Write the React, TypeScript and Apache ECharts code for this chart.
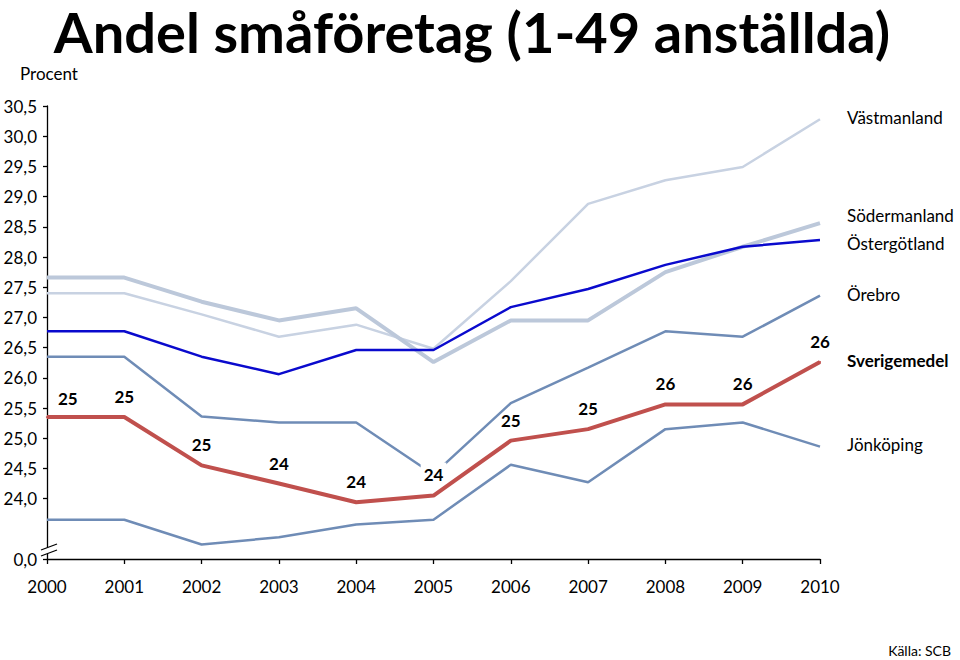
import React, { useEffect, useRef } from "react";
import * as echarts from "echarts";

const years = ["2000", "2001", "2002", "2003", "2004", "2005", "2006", "2007", "2008", "2009", "2010"];
const vastmanland = [27.4, 27.4, 27.05, 26.68, 26.88, 26.48, 27.6, 28.88, 29.27, 29.49, 30.28];
const sodermanland = [27.66, 27.66, 27.26, 26.95, 27.15, 26.26, 26.95, 26.95, 27.75, 28.17, 28.56];
const ostergotland = [26.77, 26.77, 26.35, 26.06, 26.46, 26.46, 27.17, 27.47, 27.87, 28.17, 28.28];
const orebro = [26.35, 26.35, 25.36, 25.26, 25.26, 24.4, 25.58, 26.17, 26.77, 26.68, 27.36];
const sverigemedel = [25.35, 25.35, 24.55, 24.25, 23.94, 24.05, 24.96, 25.15, 25.56, 25.56, 26.26];
const jonkoping = [23.65, 23.65, 23.24, 23.36, 23.57, 23.65, 24.56, 24.27, 25.15, 25.26, 24.86];
const yTicks = [23, 24, 24.5, 25, 25.5, 26, 26.5, 27, 27.5, 28, 28.5, 29, 29.5, 30, 30.5];

const FONT = "Lato, 'Open Sans', sans-serif";

export default function App() {
  const ref = useRef<HTMLDivElement>(null);
  useEffect(() => {
    if (!ref.current) return;
    const chart = echarts.init(ref.current, null, { renderer: "svg" });
    const lineSeries = (name: string, data: any[], color: string, width: number, z: number) => ({
      name,
      type: "line",
      data,
      symbol: "none",
      z,
      lineStyle: { color, width },
      itemStyle: { color },
    });
    const baseLabel = {
      show: true,
      position: "top",
      distance: 11,
      fontSize: 17,
      fontWeight: "bold",
      color: "#000",
      fontFamily: FONT,
      formatter: (p: any) => String(Math.round(p.value)),
    };
    chart.setOption({
      animation: false,
      textStyle: { fontFamily: FONT },
      grid: { left: 47, right: 140, top: 106, bottom: 101 },
      xAxis: {
        type: "category",
        data: years,
        boundaryGap: false,
        axisLine: { lineStyle: { color: "#000", width: 1.3 } },
        axisTick: { show: true, length: 5, lineStyle: { color: "#000", width: 1.3 } },
        axisLabel: { color: "#000", fontSize: 17, margin: 19, fontFamily: FONT },
        splitLine: { show: false },
      },
      yAxis: {
        type: "value",
        min: 23,
        max: 30.5,
        interval: 0.5,
        axisLine: { show: true, lineStyle: { color: "#000", width: 1.3 } },
        axisTick: { show: true, length: 4, customValues: yTicks, lineStyle: { color: "#000", width: 1.3 } },
        axisLabel: {
          color: "#000",
          fontSize: 17,
          margin: 10,
          fontFamily: FONT,
          customValues: yTicks,
          formatter: (v: number) => (v === 23 ? "0,0" : v.toFixed(1).replace(".", ",")),
        },
        splitLine: { show: false },
      },
      series: [
        lineSeries("Västmanland", vastmanland, "#C8D2E2", 2.5, 2),
        lineSeries("Södermanland", sodermanland, "#BCC8DA", 4, 3),
        lineSeries("Östergötland", ostergotland, "#0A0ACD", 2.5, 4),
        lineSeries("Örebro", orebro, "#6F8CB6", 2.5, 5),
        lineSeries("Jönköping", jonkoping, "#6F8CB6", 2.5, 5),
        {
          name: "Sverigemedel",
          type: "line",
          z: 8,
          symbol: "circle",
          symbolSize: 2,
          showSymbol: true,
          lineStyle: { color: "#C0504D", width: 4 },
          itemStyle: { color: "#C0504D" },
          data: sverigemedel.map((v, i) => {
            if (i === 0) return { value: v, label: { ...baseLabel, position: [12, -26] } };
            if (i === 5)
              return { value: v, label: { ...baseLabel, backgroundColor: "#fff", padding: [3, 3, 1, 3] } };
            return { value: v };
          }),
          label: baseLabel,
          labelLayout: { hideOverlap: false },
        },
      ],
      graphic: [
        {
          type: "text",
          x: 472,
          y: 31,
          style: {
            text: "Andel småföretag (1-49 anställda)",
            font: `bold 56px ${FONT}`,
            lineHeight: 56,
            fill: "#000",
            textAlign: "center",
            textVerticalAlign: "middle",
          },
        },
        { type: "text", x: 20, y: 65, style: { text: "Procent", font: `17px ${FONT}`, fill: "#000" } },
        { type: "text", x: 847, y: 109, style: { text: "Västmanland", font: `17px ${FONT}`, fill: "#000" } },
        { type: "text", x: 847, y: 207, style: { text: "Södermanland", font: `17px ${FONT}`, fill: "#000" } },
        { type: "text", x: 847, y: 235, style: { text: "Östergötland", font: `17px ${FONT}`, fill: "#000" } },
        { type: "text", x: 847, y: 286, style: { text: "Örebro", font: `17px ${FONT}`, fill: "#000" } },
        { type: "text", x: 847, y: 352, style: { text: "Sverigemedel", font: `bold 17px ${FONT}`, fill: "#000" } },
        { type: "text", x: 847, y: 436, style: { text: "Jönköping", font: `17px ${FONT}`, fill: "#000" } },
        {
          type: "text",
          right: 9,
          top: 643,
          style: { text: "Källa: SCB", font: `14px ${FONT}`, fill: "#000" },
        },
        {
          type: "polygon",
          z: 100,
          shape: { points: [[41, 550], [57, 544], [57, 550], [41, 556]] },
          style: { fill: "#fff" },
        },
        {
          type: "line",
          z: 101,
          shape: { x1: 41, y1: 550, x2: 57, y2: 544 },
          style: { stroke: "#000", lineWidth: 1.3 },
        },
        {
          type: "line",
          z: 101,
          shape: { x1: 41, y1: 556, x2: 57, y2: 550 },
          style: { stroke: "#000", lineWidth: 1.3 },
        },
      ],
    });
    return () => chart.dispose();
  }, []);
  return (
    <div
      ref={ref}
      style={{ position: "fixed", left: 0, top: 0, width: 960, height: 660, background: "#fff" }}
    />
  );
}
